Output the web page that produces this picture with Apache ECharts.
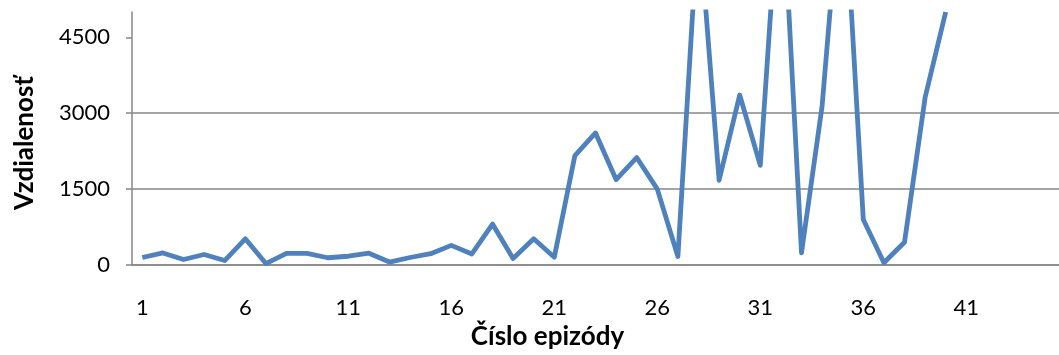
<!DOCTYPE html>
<html>
<head>
<meta charset="utf-8">
<script src="https://cdn.jsdelivr.net/npm/echarts@6/dist/echarts.min.js"></script>
<style>
  html, body { margin: 0; padding: 0; background: #fff; }
  #chart { width: 1059px; height: 355px; }
</style>
</head>
<body>
<div id="chart"></div>
<script>
// episode numbers on the x axis (the axis runs past the last episode)
const episodes = [];
for (let i = 1; i <= 45; i++) episodes.push(String(i));

// distance per episode (peaks above 5000 are cut off)
const distance = [
  150, 240, 110, 210, 90, 520, 30, 230, 230, 145,
  175, 235, 60, 150, 225, 390, 220, 810, 130, 520,
  155, 2165, 2610, 1690, 2125, 1500, 170, 6900, 1675, 3360,
  1970, 8000, 240, 3140, 8000, 900, 45, 450, 3310, 5000
];

const yTicks = [0, 1500, 3000, 4500];

const axisGrey = '#878787';
const font = 'Lato, "Open Sans", sans-serif';

const chart = echarts.init(document.getElementById('chart'), null, { renderer: 'canvas' });
chart.setOption({
  animation: false,
  backgroundColor: '#fff',
  grid: {
    left: 132,
    top: 12,
    bottom: 88,
    width: 930,
    containLabel: false
  },
  xAxis: {
    type: 'category',
    data: episodes,
    boundaryGap: true,
    name: 'Číslo epizódy',
    nameLocation: 'middle',
    nameGap: 56,
    nameTextStyle: {
      fontFamily: font,
      fontWeight: 'bold',
      fontSize: 26,
      color: '#000',
      padding: [0, 96, 0, 0]
    },
    axisLine: { lineStyle: { color: axisGrey, width: 1.5 } },
    axisTick: {
      interval: 4,
      alignWithLabel: false,
      length: 8,
      lineStyle: { color: axisGrey, width: 1.5 }
    },
    axisLabel: {
      interval: 4,
      margin: 32,
      fontFamily: font,
      fontSize: 22,
      color: '#000'
    },
    splitLine: { show: false }
  },
  yAxis: {
    type: 'value',
    min: 0,
    max: 5000,
    interval: 1500,
    name: 'Vzdialenosť',
    nameLocation: 'middle',
    nameGap: 94,
    nameRotate: 90,
    nameTextStyle: {
      fontFamily: font,
      fontWeight: 'bold',
      fontSize: 26,
      color: '#000',
      padding: [0, 9, 0, 0]
    },
    axisLine: { show: true, lineStyle: { color: axisGrey, width: 1.5 } },
    axisTick: {
      show: true,
      length: 6,
      customValues: yTicks,
      lineStyle: { color: axisGrey, width: 1.5 }
    },
    axisLabel: {
      customValues: yTicks,
      margin: 22,
      fontFamily: font,
      fontSize: 22,
      color: '#000',
      formatter: v => String(v)
    },
    splitLine: {
      show: true,
      showMaxLine: false,
      lineStyle: { color: axisGrey, width: 1.5 }
    }
  },
  series: [
    {
      type: 'line',
      data: distance,
      symbol: 'none',
      clip: true,
      lineStyle: { color: '#4F81BD', width: 4.8, join: 'round' },
      itemStyle: { color: '#4F81BD' }
    }
  ]
});
</script>
</body>
</html>
